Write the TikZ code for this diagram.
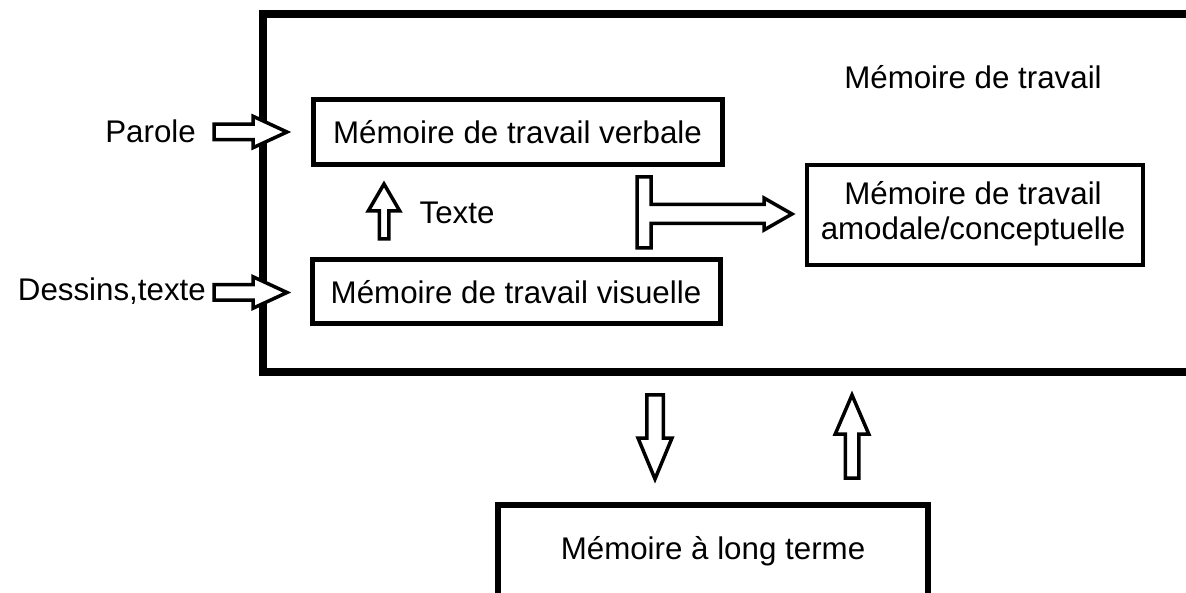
\documentclass[tikz,border=0pt]{standalone}
\usepackage{fontspec}
\setmainfont{Liberation Sans}
\begin{document}
\begin{tikzpicture}[x=1pt,y=-1pt,
  box/.style={draw=black,rectangle,inner sep=0pt,align=center},
  lbl/.style={inner sep=0pt,align=center},
  blockarrow/.style={draw=black,fill=white,line width=3.5pt,line join=miter}]
\fontsize{31.3}{36}\selectfont
\clip (0,0) rectangle (1186,593);
\fill[white] (0,0) rectangle (1186,593);

% working memory frame (runs past the right edge)
\node[box,line width=8pt,minimum width=937.5pt,minimum height=358.5pt] (wm) at (731.25,193.25) {};
\node[lbl] (wmtitle) at (973,77) {Mémoire de travail};

% sub-systems
\node[box,line width=5pt,minimum width=409pt,minimum height=65pt] (verb) at (517.5,132.5) {Mémoire de travail verbale};
\node[box,line width=5pt,minimum width=408pt,minimum height=64pt] (vis) at (516,292) {Mémoire de travail visuelle};
\node[box,line width=4.5pt,minimum width=336pt,minimum height=100pt] (amod) at (975,215) {};
\node[lbl] (amodtxt) at (973,214) {Mémoire de travail\\[-1pt]amodale/conceptuelle};

% long-term memory (runs past the bottom edge)
\node[box,line width=6pt,minimum width=430pt,minimum height=92pt] (ltm) at (713,551) {Mémoire à long terme};

% inputs
\node[lbl,anchor=east] (parole) at (196,131) {Parole};
\node[lbl,anchor=east] (dessins) at (206,291) {Dessins,texte};
\node[lbl] (texte) at (457,213) {Texte};

% input arrows
\draw[blockarrow] (214,124.25) -- (253,124.25) -- (253,116.25) -- (287,132)
  -- (253,147.75) -- (253,139.75) -- (214,139.75) -- cycle;
\draw[blockarrow] (214,284.75) -- (253,284.75) -- (253,276.75) -- (287,292.5)
  -- (253,308.25) -- (253,300.25) -- (214,300.25) -- cycle;

% visual to verbal
\draw[blockarrow] (379.25,239) -- (379.25,211) -- (368.25,211) -- (384,184)
  -- (399.75,211) -- (388.75,211) -- (388.75,239) -- cycle;

% verbal and visual into amodal
\draw[blockarrow] (637,177) -- (651,177) -- (651,204.5) -- (764,204.5) -- (764,198)
  -- (792,214) -- (764,230) -- (764,223.5) -- (651,223.5) -- (651,248) -- (637,248) -- cycle;

% exchanges with long-term memory
\draw[blockarrow] (646.75,395) -- (663.25,395) -- (663.25,438) -- (672,438)
  -- (655,479) -- (638,438) -- (646.75,438) -- cycle;
\draw[blockarrow] (845.25,478) -- (845.25,434) -- (835.25,434) -- (852,395)
  -- (868.75,434) -- (858.75,434) -- (858.75,478) -- cycle;
\end{tikzpicture}
\end{document}
